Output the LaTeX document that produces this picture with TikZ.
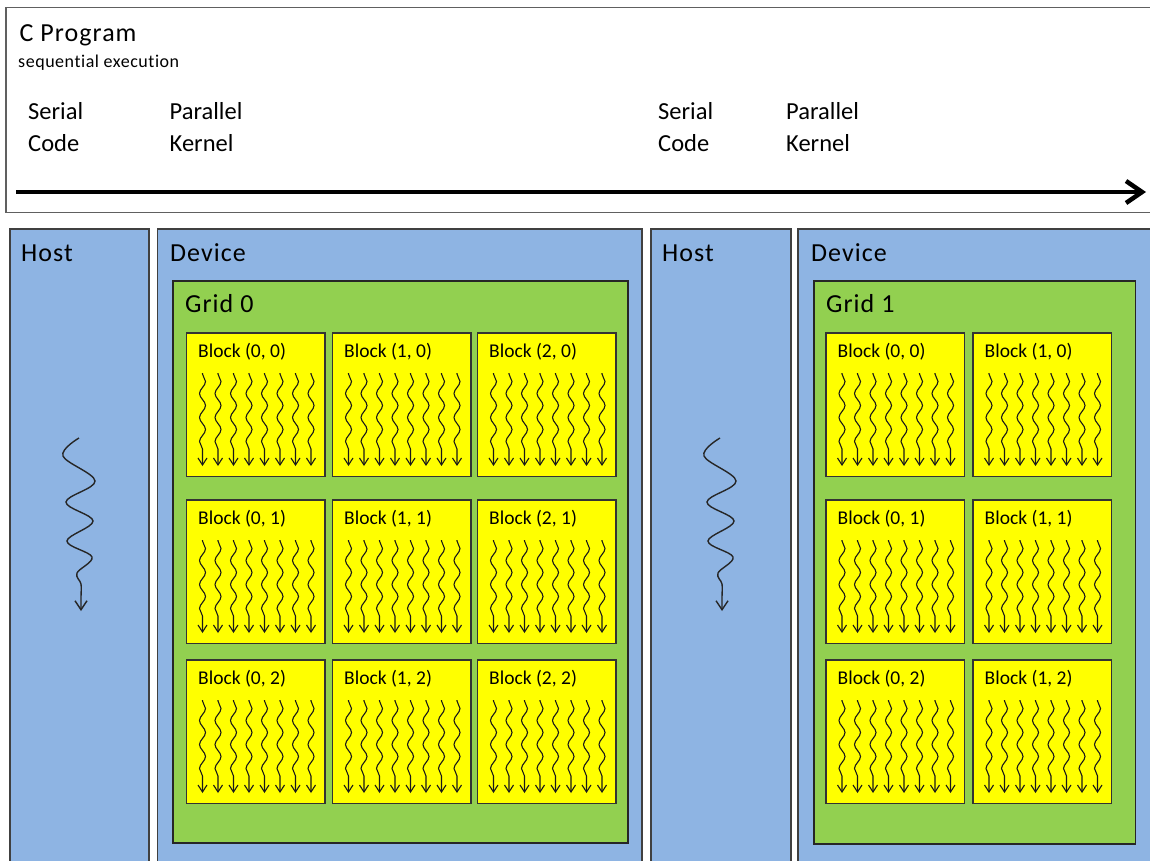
\documentclass[tikz,border=0pt]{standalone}
\usepackage{fontspec}
\setmainfont{Carlito}[Ligatures=NoCommon]
\newfontfamily\spacedfont[LetterSpace=4,Ligatures=NoCommon]{Carlito}
\newfontfamily\spacedsubfont[LetterSpace=3,Ligatures=NoCommon]{Carlito}
\usetikzlibrary{arrows.meta,decorations.pathmorphing}
\definecolor{hostblue}{RGB}{142,180,227}
\definecolor{gridgreen}{RGB}{146,208,80}
\definecolor{blockyellow}{RGB}{255,255,0}
\definecolor{edgegray}{RGB}{64,64,64}
\definecolor{topgray}{RGB}{96,96,96}
\tikzset{
  panelbox/.style={draw=edgegray, line width=1.3pt, fill=hostblue, anchor=north west, inner sep=0pt, outer sep=0pt},
  gridbox/.style={draw=black!85, line width=1.2pt, fill=gridgreen, anchor=north west, inner sep=0pt, outer sep=0pt},
  blockbox/.style={draw=black!80, line width=1.1pt, fill=blockyellow, anchor=north west, inner sep=0pt, outer sep=0pt, minimum width=138.5pt, minimum height=143.5pt},
  bigtext/.style={font=\spacedfont\fontsize{26}{30}\selectfont, anchor=base west, inner sep=0pt},
  codetext/.style={font=\fontsize{24.5}{30}\selectfont, anchor=base west, inner sep=0pt},
  subtext/.style={font=\spacedsubfont\fontsize{18}{21}\selectfont, anchor=base west, inner sep=0pt},
  blocklabel/.style={font=\fontsize{19.5}{23}\selectfont, anchor=base west, inner sep=0pt},
  thread/.style={line width=1.1pt, black!90, decorate,
    decoration={snake, amplitude=3pt, segment length=24pt, pre length=1pt, post length=12pt},
    -{Straight Barb[length=7pt,width=9pt]}},
  hostwave/.style={line width=1.4pt, black!85, -{Straight Barb[length=9pt,width=12pt]}},
  timeline/.style={line width=4.5pt, black, -{Straight Barb[length=16pt,width=22pt]}}
}
\begin{document}
\begin{tikzpicture}[x=1pt,y=-1pt]
\path[use as bounding box] (0,0) rectangle (1150,860);
\clip (0,0) rectangle (1150,860);
\fill[white] (0,0) rectangle (1150,860);
% top box
\node[draw=topgray, line width=1.2pt, fill=white, anchor=north west, inner sep=0pt, outer sep=0pt, minimum width=1160pt, minimum height=205pt] (prog) at (6,7.5) {};
\node[bigtext] (title) at (19.5,41) {C Program};
\node[subtext] (subtitle) at (18,67) {sequential execution};
\node[codetext] (s1a) at (28,119) {Serial};
\node[codetext] (s1b) at (28,151) {Code};
\node[codetext] (p1a) at (169.5,119) {Parallel};
\node[codetext] (p1b) at (169.5,151) {Kernel};
\node[codetext] (s2a) at (658,119) {Serial};
\node[codetext] (s2b) at (658,151) {Code};
\node[codetext] (p2a) at (786,119) {Parallel};
\node[codetext] (p2b) at (786,151) {Kernel};
\coordinate (tlstart) at (16,192);
\coordinate (tlend) at (1146,192);
\draw[timeline] (tlstart) -- (tlend);
% panels
\node[panelbox, minimum width=139pt, minimum height=660pt] (host1) at (10,229) {};
\node[panelbox, minimum width=484.5pt, minimum height=660pt] (dev1) at (157.5,229) {};
\node[panelbox, minimum width=140pt, minimum height=660pt] (host2) at (651,229) {};
\node[panelbox, minimum width=400pt, minimum height=660pt] (dev2) at (798,229) {};
\node[bigtext] (host1l) at (21,261) {Host};
\node[bigtext] (dev1l) at (170,261) {Device};
\node[bigtext] (host2l) at (662,261) {Host};
\node[bigtext] (dev2l) at (811,261) {Device};
% grids
\node[gridbox, minimum width=455pt, minimum height=562pt] (grid0) at (173,281) {};
\node[gridbox, minimum width=321.5pt, minimum height=563pt] (grid1) at (814,281) {};
\node[bigtext] (grid0l) at (185,312) {Grid 0};
\node[bigtext] (grid1l) at (826,312) {Grid 1};
% blocks grid 0
\foreach \c/\cx in {0/186.5,1/332.5,2/477.5}{
  \foreach \r/\ry in {0/333,1/500,2/660}{
    \node[blockbox] (ga\c\r) at (\cx,\ry) {};
    \node[blocklabel] (ga\c\r-l) at ([shift={(11.5,24.5)}]ga\c\r.north west) {Block (\c, \r)};
    \foreach \i in {0,...,7}{
      \draw[thread] ([shift={(16+15.5*\i,40)}]ga\c\r.north west) -- ([shift={(16+15.5*\i,133)}]ga\c\r.north west);
    }
  }
}
% blocks grid 1
\foreach \c/\cx in {0/826,1/973}{
  \foreach \r/\ry in {0/333,1/500,2/660}{
    \node[blockbox] (gb\c\r) at (\cx,\ry) {};
    \node[blocklabel] (gb\c\r-l) at ([shift={(11.5,24.5)}]gb\c\r.north west) {Block (\c, \r)};
    \foreach \i in {0,...,7}{
      \draw[thread] ([shift={(16+15.5*\i,40)}]gb\c\r.north west) -- ([shift={(16+15.5*\i,133)}]gb\c\r.north west);
    }
  }
}
% host serial threads
\foreach \dx/\nm in {0/a,641/b}{
  \coordinate (hw\nm s) at (79+\dx,438);
  \coordinate (hw\nm e) at (81+\dx,611);
  \draw[hostwave] plot[smooth, tension=0.6] coordinates {(hw\nm s) (63+\dx,456) (95+\dx,481) (66+\dx,502) (93+\dx,521) (67+\dx,541) (92+\dx,557) (77+\dx,573) (81+\dx,584) (81+\dx,597) (hw\nm e)};
}
\end{tikzpicture}
\end{document}
